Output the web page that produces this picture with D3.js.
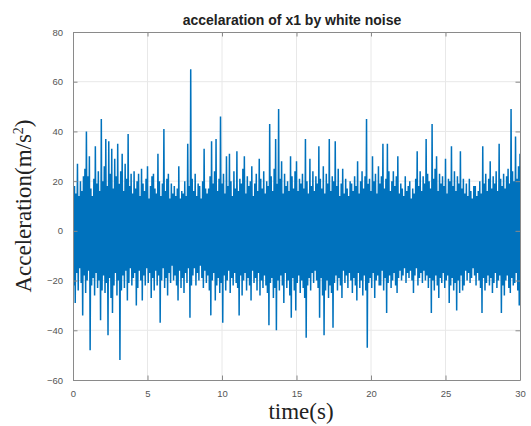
<!DOCTYPE html>
<html>
<head>
<meta charset="utf-8">
<script src="https://cdn.jsdelivr.net/npm/d3@7/dist/d3.min.js"></script>
<style>
  html, body { margin: 0; padding: 0; background: #fff; }
  svg { display: block; }
</style>
</head>
<body>
<script>
// ---- data ----
const title = "accelaration of x1 by white noise";
const xLabel = "time(s)";
const yLabel = "Acceleration(m/s";
const xTicks = [0, 5, 10, 15, 20, 25, 30];
const yTicks = [80, 60, 40, 20, 0, -20, -40, -60];
const sampleStep = 0.1; // seconds between samples of each envelope series
// positive excursions, one per 0.1 s
const upperPeaks = [
  23,18,15,27,14,20,16,22,25,40,
  22,30,17,14,21,34,19,24,16,45,
  20,26,37,18,36,23,33,17,29,22,
  35,19,24,31,16,27,21,39,18,23,
  15,24,17,20,23,14,25,19,16,21,
  26,13,18,22,23,17,15,31,20,14,
  19,41,16,21,23,13,19,15,18,14,
  17,26,13,16,15,20,14,35,18,65,
  21,16,23,14,19,18,13,20,33,17,
  15,17,22,36,19,24,37,16,21,46,
  19,23,15,30,18,31,20,14,24,17,
  32,16,21,19,25,30,15,22,18,20,
  26,14,19,23,16,29,21,17,24,15,
  20,18,43,22,16,25,37,19,49,21,
  28,15,23,18,20,16,30,22,17,24,
  28,16,21,19,23,17,37,20,15,29,
  18,24,16,22,19,34,21,17,26,15,
  23,19,37,16,22,20,36,18,25,14,
  19,25,15,21,17,14,20,19,16,22,
  18,28,15,20,24,17,22,45,19,21,
  16,30,20,23,15,26,19,22,35,17,
  21,35,24,16,20,24,18,22,30,15,
  19,17,14,22,16,18,20,13,17,15,
  21,32,18,24,16,22,19,37,23,20,
  17,43,21,25,30,16,23,19,22,18,
  29,15,21,20,34,18,24,16,22,19,
  32,17,21,15,19,14,21,16,13,18,
  18,14,16,20,15,34,19,23,16,21,
  28,17,22,19,24,16,35,21,18,23,
  17,22,25,19,49,24,20,38,21,26,
  31
];
// negative excursions, one per 0.1 s (offset by half a step)
const lowerPeaks = [
  -22,-29,-17,-24,-15,-21,-34,-18,-25,-20,
  -16,-48,-22,-19,-26,-17,-23,-20,-36,-24,
  -18,-25,-21,-42,-19,-27,-33,-22,-17,-26,
  -20,-52,-24,-18,-23,-16,-28,-21,-15,-22,
  -19,-17,-30,-23,-16,-20,-28,-18,-22,-15,
  -21,-17,-27,-19,-24,-16,-22,-18,-37,-20,
  -15,-23,-19,-26,-17,-21,-14,-20,-18,-22,
  -28,-16,-23,-19,-25,-17,-21,-15,-35,-22,
  -18,-15,-22,-17,-20,-14,-19,-23,-16,-21,
  -18,-24,-34,-20,-17,-28,-22,-19,-25,-21,
  -37,-18,-24,-20,-16,-25,-19,-22,-17,-21,
  -23,-34,-18,-26,-20,-17,-24,-19,-22,-28,
  -16,-21,-19,-24,-17,-26,-20,-23,-18,-22,
  -25,-38,-21,-19,-27,-23,-40,-20,-24,-18,
  -22,-29,-17,-23,-20,-26,-35,-19,-24,-32,
  -21,-18,-25,-20,-23,-27,-43,-22,-19,-24,
  -17,-21,-16,-20,-23,-35,-19,-26,-42,-24,
  -20,-27,-22,-25,-39,-21,-18,-24,-19,-22,
  -27,-16,-21,-18,-23,-17,-20,-25,-19,-22,
  -28,-17,-23,-20,-26,-18,-24,-47,-21,-19,
  -23,-17,-27,-20,-18,-22,-22,-16,-24,-19,
  -33,-21,-18,-23,-20,-17,-22,-25,-19,-16,
  -20,-18,-15,-21,-17,-19,-16,-20,-25,-18,
  -15,-22,-19,-17,-21,-16,-20,-18,-23,-19,
  -33,-20,-24,-18,-22,-27,-19,-21,-17,-23,
  -20,-18,-29,-22,-19,-24,-21,-32,-20,-25,
  -18,-24,-22,-16,-20,-17,-21,-19,-15,-18,
  -22,-17,-20,-23,-33,-19,-24,-21,-18,-22,
  -19,-25,-21,-17,-23,-20,-18,-33,-22,-26,
  -20,-18,-23,-25,-19,-22,-21,-17,-24,-30,
  -22
];

// ---- layout ----
const W = 531, H = 426;
const m = { left: 73, right: 11, top: 32, bottom: 46 };
const iw = W - m.left - m.right, ih = H - m.top - m.bottom;

const svg = d3.select("body").append("svg").attr("width", W).attr("height", H);
const x = d3.scaleLinear().domain([0, 30]).range([m.left, m.left + iw]);
const y = d3.scaleLinear().domain([-60, 80]).range([m.top + ih, m.top]);

// grid
const g = svg.append("g");
g.selectAll(".gx").data(xTicks.slice(1, -1)).enter().append("line")
  .attr("x1", d => x(d)).attr("x2", d => x(d))
  .attr("y1", m.top).attr("y2", m.top + ih)
  .attr("stroke", "#e8e8e8").attr("stroke-width", 1);
g.selectAll(".gy").data(yTicks.slice(1, -1)).enter().append("line")
  .attr("y1", d => y(d)).attr("y2", d => y(d))
  .attr("x1", m.left).attr("x2", m.left + iw)
  .attr("stroke", "#e8e8e8").attr("stroke-width", 1);

// signal
const pts = [];
upperPeaks.forEach((v, i) => {
  pts.push([i * sampleStep, v]);
  if (i < lowerPeaks.length) pts.push([i * sampleStep + sampleStep / 2, lowerPeaks[i]]);
});
svg.append("clipPath").attr("id", "clip").append("rect")
  .attr("x", m.left).attr("y", m.top).attr("width", iw).attr("height", ih);
svg.append("path")
  .datum(pts)
  .attr("clip-path", "url(#clip)")
  .attr("fill", "none")
  .attr("stroke", "#0072BD")
  .attr("stroke-width", 1.5)
  .attr("stroke-linejoin", "bevel")
  .attr("d", d3.line().x(d => x(d[0])).y(d => y(d[1])));

// axes (MATLAB-style box with inward ticks)
const axCol = "#8a8a8a", txtCol = "#555";
const tl = 4.5;
const xb = d3.axisBottom(x).tickValues(xTicks).tickSize(-tl).tickPadding(10).tickSizeOuter(0);
const xt = d3.axisTop(x).tickValues(xTicks).tickSize(-tl).tickFormat("").tickSizeOuter(0);
const yl = d3.axisLeft(y).tickValues(yTicks).tickSize(-tl).tickPadding(10).tickSizeOuter(0);
const yr = d3.axisRight(y).tickValues(yTicks).tickSize(-tl).tickFormat("").tickSizeOuter(0);

function style(sel) {
  sel.selectAll("path.domain").attr("stroke", axCol).attr("stroke-width", 1);
  sel.selectAll(".tick line").attr("stroke", axCol).attr("stroke-width", 1);
  sel.selectAll(".tick text").attr("fill", txtCol)
    .style("font-family", "'Liberation Sans', Arial, sans-serif").style("font-size", "9.5px");
}
svg.append("g").attr("transform", `translate(0,${m.top + ih})`).call(xb).call(style);
svg.append("g").attr("transform", `translate(0,${m.top})`).call(xt).call(style);
svg.append("g").attr("transform", `translate(${m.left},0)`).call(yl).call(style);
svg.append("g").attr("transform", `translate(${m.left + iw},0)`).call(yr).call(style);

// title
svg.append("text")
  .attr("x", 292).attr("y", 25)
  .attr("text-anchor", "middle")
  .style("font-family", "'Liberation Sans', Arial, sans-serif")
  .style("font-weight", "bold").style("font-size", "14px")
  .attr("fill", "#222")
  .text(title);

// x label
svg.append("text")
  .attr("x", 301).attr("y", 419)
  .attr("text-anchor", "middle")
  .style("font-family", "'Liberation Serif', 'Times New Roman', serif")
  .style("font-size", "23px")
  .attr("fill", "#222")
  .text(xLabel);

// y label with superscript
const yt = svg.append("text")
  .attr("transform", `translate(31,${m.top + ih / 2}) rotate(-90)`)
  .attr("text-anchor", "middle")
  .style("font-family", "'Liberation Serif', 'Times New Roman', serif")
  .style("font-size", "23px")
  .attr("fill", "#222");
yt.append("tspan").text(yLabel);
yt.append("tspan").attr("dy", -8).style("font-size", "14px").text("2");
yt.append("tspan").attr("dy", 8).text(")");
</script>
</body>
</html>
